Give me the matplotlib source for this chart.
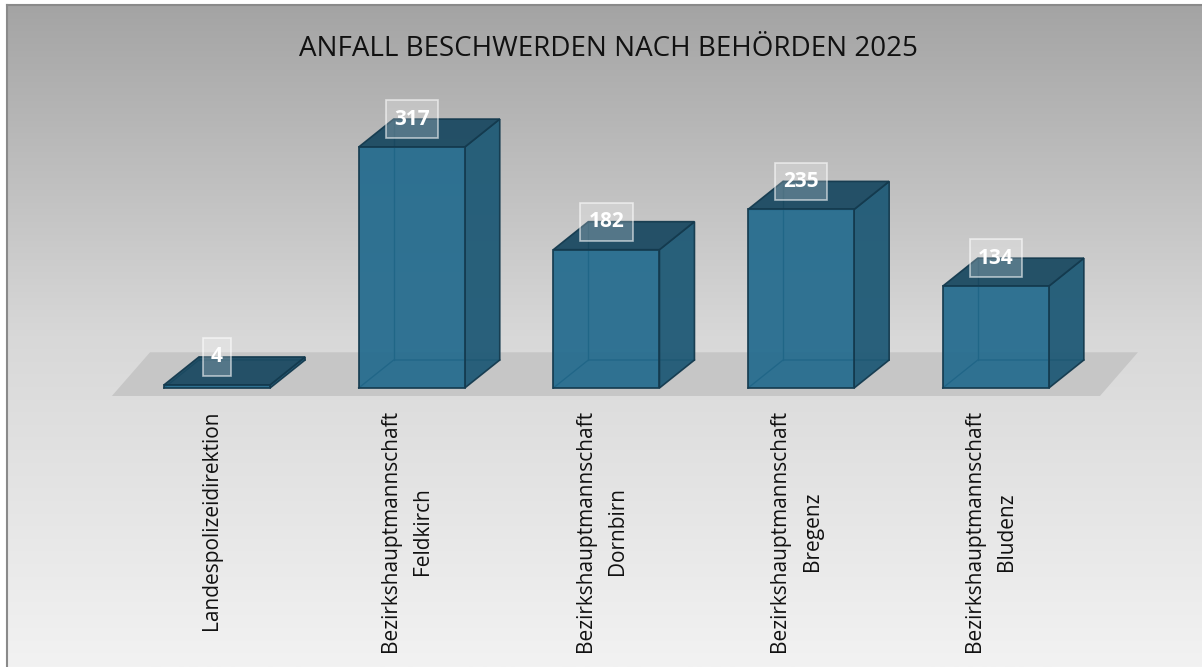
import numpy as np
import matplotlib.pyplot as plt
import matplotlib.transforms as mtransforms
from matplotlib.patches import Polygon

plt.rcParams['font.family'] = ['Open Sans', 'DejaVu Sans']

# data
categories = ["Landespolizeidirektion",
              "Bezirkshauptmannschaft\nFeldkirch",
              "Bezirkshauptmannschaft\nDornbirn",
              "Bezirkshauptmannschaft\nBregenz",
              "Bezirkshauptmannschaft\nBludenz"]
values = [4, 317, 182, 235, 134]
title = "ANFALL BESCHWERDEN NACH BEHÖRDEN 2025"

front_col = "#226a8d"
side_col = "#1f5a76"
top_col = "#1b4a62"
edge_col = "#143a4e"

W, H = 1202, 667
fig = plt.figure(figsize=(W / 100, H / 100), dpi=100)

# background with gradient and frame
bg = fig.add_axes([7 / W, 0, 1 - 7 / W, (H - 5) / H])
grad = np.linspace(0, 1, 256).reshape(-1, 1)
bg.imshow(grad, aspect="auto", cmap=plt.matplotlib.colors.LinearSegmentedColormap.from_list(
    "g", ["#a4a4a4", "#d8d8d8", "#f2f2f2"]), extent=[0, 1, 0, 1], origin="upper")
bg.set_xlim(0, 1)
bg.set_ylim(0, 1)
bg.set_xticks([])
bg.set_yticks([])
for s in ["right", "bottom"]:
    bg.spines[s].set_visible(False)
for s in ["left", "top"]:
    bg.spines[s].set_color("#8a8a8a")
    bg.spines[s].set_linewidth(1.5)

# main axes geometry (pixels)
step = 194.7
x0px = 217
ppu = 0.76
base_px = H - 388
xlo, xhi = -0.6, 4.6
ylo, yhi = -20, 380
ax = fig.add_axes([(x0px + xlo * step) / W, (base_px + ylo * ppu) / H,
                   (xhi - xlo) * step / W, (yhi - ylo) * ppu / H])
ax.set_xlim(xlo, xhi)
ax.set_ylim(ylo, yhi)
ax.patch.set_visible(False)
for s in ax.spines.values():
    s.set_visible(False)

w = 0.545
dx = 35 / step
dy = 28 / ppu
x = np.arange(len(values))

# floor
floor = Polygon([(-0.54, -10.5), (4.535, -10.5), (4.73, 47), (-0.344, 47)],
                closed=True, facecolor="#c4c4c4", edgecolor="none", alpha=0.9,
                zorder=1, clip_on=False)
ax.add_patch(floor)

for xi, v in zip(x, values):
    l, r = xi - w / 2, xi + w / 2
    # hidden back edges
    ax.plot([l, l + dx, r + dx], [0, dy, dy], color=edge_col, lw=1, zorder=2)
    ax.plot([l + dx, l + dx], [dy, v + dy], color=edge_col, lw=1, zorder=2)
    side = Polygon([(r, 0), (r + dx, dy), (r + dx, v + dy), (r, v)], closed=True,
                   facecolor=side_col, edgecolor=edge_col, lw=1.2, alpha=0.95, zorder=3)
    top = Polygon([(l, v), (r, v), (r + dx, v + dy), (l + dx, v + dy)], closed=True,
                  facecolor=top_col, edgecolor=edge_col, lw=1.2, alpha=0.95, zorder=3)
    ax.add_patch(side)
    ax.add_patch(top)

ax.bar(x, values, width=w, color=front_col, alpha=0.92, edgecolor=edge_col,
       linewidth=1.3, zorder=4)

for xi, v in zip(x, values):
    ax.text(xi, v + dy, str(v), ha="center", va="center", color="white",
            fontsize=15, fontweight="bold", zorder=6,
            bbox=dict(boxstyle="square,pad=0.4", facecolor=(1, 1, 1, 0.22),
                      edgecolor=(1, 1, 1, 0.6), linewidth=1.2))

ax.set_yticks([])
ax.set_xticks(x)
ax.set_xticklabels(categories, rotation=90, fontsize=15, color="#111111",
                   multialignment="center", linespacing=1.7)
ax.tick_params(axis="x", length=0, pad=5)
shift = mtransforms.ScaledTranslation(-5 / 100, 0, fig.dpi_scale_trans)
for lbl in ax.get_xticklabels():
    lbl.set_transform(lbl.get_transform() + shift)

fig.text(0.506, 1 - 49 / H, title, ha="center", va="center", fontsize=20,
         color="#111111")

fig.savefig("out.png", dpi=100)
